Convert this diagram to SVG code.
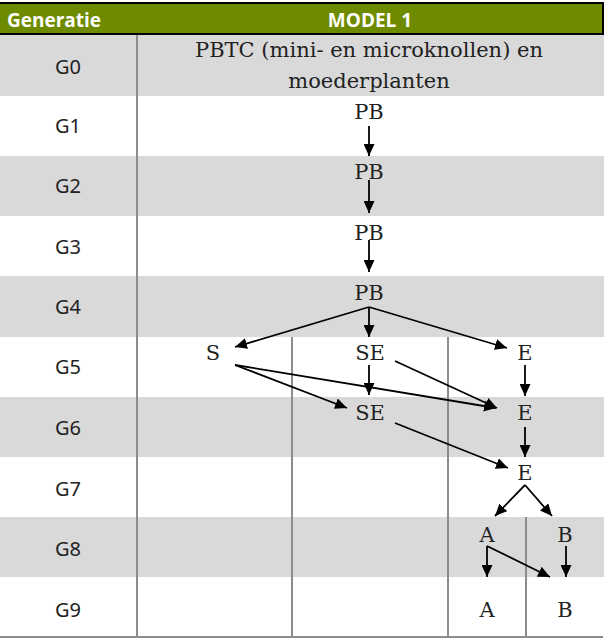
<svg xmlns="http://www.w3.org/2000/svg" width="606" height="638" viewBox="0 0 606 638">
<defs>
<style>
.band{fill:#d9d9d9}
.div{stroke:#8c8c8c;stroke-width:2;fill:none}
.hdr{font-family:"Open Sans","Noto Sans",sans-serif;font-weight:bold;font-size:19px;fill:#fff;text-anchor:middle}
.gen{font-family:"Noto Sans","Open Sans",sans-serif;font-size:20px;fill:#222;text-anchor:middle}
.nd{font-family:"DejaVu Serif","Liberation Serif",serif;font-size:21px;fill:#222;text-anchor:middle}
.arr{stroke:#000;stroke-width:1.8;fill:none;marker-end:url(#ah)}
</style>
<marker id="ah" markerUnits="userSpaceOnUse" markerWidth="13" markerHeight="11" refX="12" refY="5.5" orient="auto">
<path d="M0,0 L12,5.5 L0,11 z" fill="#000"/>
</marker>
</defs>
<rect x="0" y="0" width="606" height="638" fill="#fff"/>
<g id="rows">
<rect class="band" x="0" y="35" width="604" height="61"/>
<rect class="band" x="0" y="156" width="604" height="60"/>
<rect class="band" x="0" y="276" width="604" height="61"/>
<rect class="band" x="0" y="397" width="604" height="60"/>
<rect class="band" x="0" y="517" width="604" height="60"/>
</g>
<g id="header">
<rect x="-1" y="3" width="604" height="31" fill="#6e8b00" stroke="#000" stroke-width="2"/>
<text class="hdr" x="54" y="27">Generatie</text>
<text class="hdr" x="370" y="27">MODEL 1</text>
</g>
<g id="grid">
<line class="div" x1="137" y1="35" x2="137" y2="637"/>
<line class="div" x1="292" y1="337" x2="292" y2="637"/>
<line class="div" x1="448" y1="337" x2="448" y2="637"/>
<line class="div" x1="526" y1="517" x2="526" y2="637"/>
<line class="div" x1="0" y1="637" x2="603" y2="637"/>
</g>
<g id="generations">
<text class="gen" x="68" y="74">G0</text>
<text class="gen" x="68" y="133">G1</text>
<text class="gen" x="68" y="193">G2</text>
<text class="gen" x="68" y="254">G3</text>
<text class="gen" x="68" y="314">G4</text>
<text class="gen" x="68" y="374">G5</text>
<text class="gen" x="68" y="435">G6</text>
<text class="gen" x="68" y="496">G7</text>
<text class="gen" x="68" y="556">G8</text>
<text class="gen" x="68" y="617">G9</text>
</g>
<g id="node-g0"><text class="nd" x="369" y="57">PBTC (mini- en microknollen) en</text><text class="nd" x="369" y="88">moederplanten</text></g>
<g id="node-g1-pb"><text class="nd" x="369" y="119">PB</text></g>
<g id="node-g2-pb"><text class="nd" x="369" y="179">PB</text></g>
<g id="node-g3-pb"><text class="nd" x="369" y="240">PB</text></g>
<g id="node-g4-pb"><text class="nd" x="369" y="300">PB</text></g>
<g id="node-g5-s"><text class="nd" x="213" y="360">S</text></g>
<g id="node-g5-se"><text class="nd" x="370" y="360">SE</text></g>
<g id="node-g5-e"><text class="nd" x="525" y="360">E</text></g>
<g id="node-g6-se"><text class="nd" x="370" y="420">SE</text></g>
<g id="node-g6-e"><text class="nd" x="525" y="420">E</text></g>
<g id="node-g7-e"><text class="nd" x="525" y="480">E</text></g>
<g id="node-g8-a"><text class="nd" x="487" y="542">A</text></g>
<g id="node-g8-b"><text class="nd" x="565" y="542">B</text></g>
<g id="node-g9-a"><text class="nd" x="487" y="617">A</text></g>
<g id="node-g9-b"><text class="nd" x="565" y="617">B</text></g>
<g id="connectors">
<line class="arr" x1="369" y1="126" x2="369" y2="156"/>
<line class="arr" x1="369" y1="180" x2="369" y2="213"/>
<line class="arr" x1="369" y1="240" x2="369" y2="272"/>
<line class="arr" x1="369" y1="307" x2="235" y2="347"/>
<line class="arr" x1="369" y1="307" x2="369" y2="337"/>
<line class="arr" x1="369" y1="307" x2="507" y2="348"/>
<line class="arr" x1="235" y1="365" x2="347" y2="408"/>
<line class="arr" x1="235" y1="365" x2="496" y2="408"/>
<line class="arr" x1="369" y1="365" x2="369" y2="395"/>
<line class="arr" x1="395" y1="361" x2="497" y2="408"/>
<line class="arr" x1="525" y1="365" x2="525" y2="396"/>
<line class="arr" x1="395" y1="423" x2="508" y2="468"/>
<line class="arr" x1="525" y1="427" x2="525" y2="457"/>
<line class="arr" x1="525" y1="485" x2="495" y2="516"/>
<line class="arr" x1="525" y1="485" x2="552" y2="516"/>
<line class="arr" x1="487" y1="546" x2="487" y2="577"/>
<line class="arr" x1="487" y1="546" x2="550" y2="577"/>
<line class="arr" x1="566" y1="546" x2="566" y2="577"/>
</g>
</svg>
